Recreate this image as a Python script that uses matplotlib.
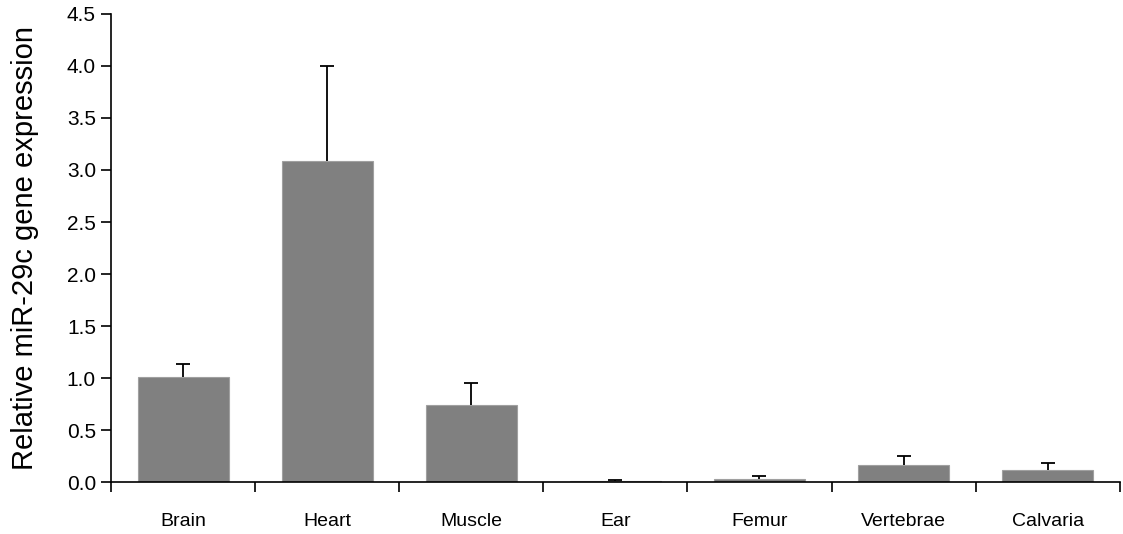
import numpy as np
import matplotlib.pyplot as plt

tissues = ['Brain', 'Heart', 'Muscle', 'Ear', 'Femur', 'Vertebrae', 'Calvaria']
expression = [1.01, 3.09, 0.74, 0.01, 0.03, 0.165, 0.12]
errors = [0.13, 0.91, 0.21, 0.01, 0.03, 0.085, 0.06]

plt.rcParams['font.family'] = ['Liberation Sans', 'DejaVu Sans']

fig = plt.figure(figsize=(11.23, 5.34), dpi=100)
ax = fig.add_axes([0.099, 0.097, 0.898, 0.877])

x = np.arange(len(tissues))
ax.bar(x, expression, width=0.63, color='#808080', edgecolor='#a0a0a0', linewidth=0.8, zorder=2)

# only upper error bars, hide the lower caps
eb = ax.errorbar(x, expression, yerr=[np.zeros(len(errors)), errors], fmt='none',
                 ecolor='black', elinewidth=1.3, capsize=5, capthick=1.3, zorder=3)
eb[1][0].set_visible(False)

ax.set_xlim(-0.5, len(tissues) - 0.5)
ax.set_ylim(0, 4.5)
yt = np.arange(0, 4.51, 0.5)
ax.set_yticks(yt)
ax.set_yticklabels([f'{v:.1f}' for v in yt], fontsize=15)

# category labels at centres, tick marks between categories
ax.set_xticks(x)
ax.set_xticklabels(tissues, fontsize=14)
ax.tick_params(axis='x', which='major', length=0, pad=22)
ax.set_xticks(np.arange(-0.5, len(tissues), 1.0), minor=True)
ax.tick_params(axis='x', which='minor', length=7, width=1.2, direction='out')
ax.tick_params(axis='y', length=7, width=1.2, direction='out', pad=4)

ax.spines['top'].set_visible(False)
ax.spines['right'].set_visible(False)
ax.spines['left'].set_linewidth(1.2)
ax.spines['bottom'].set_linewidth(1.2)

ax.set_ylabel('Relative miR-29c gene expression', fontsize=21)
ax.yaxis.set_label_coords(-0.072, 0.5)

fig.savefig('out.png', dpi=100)
